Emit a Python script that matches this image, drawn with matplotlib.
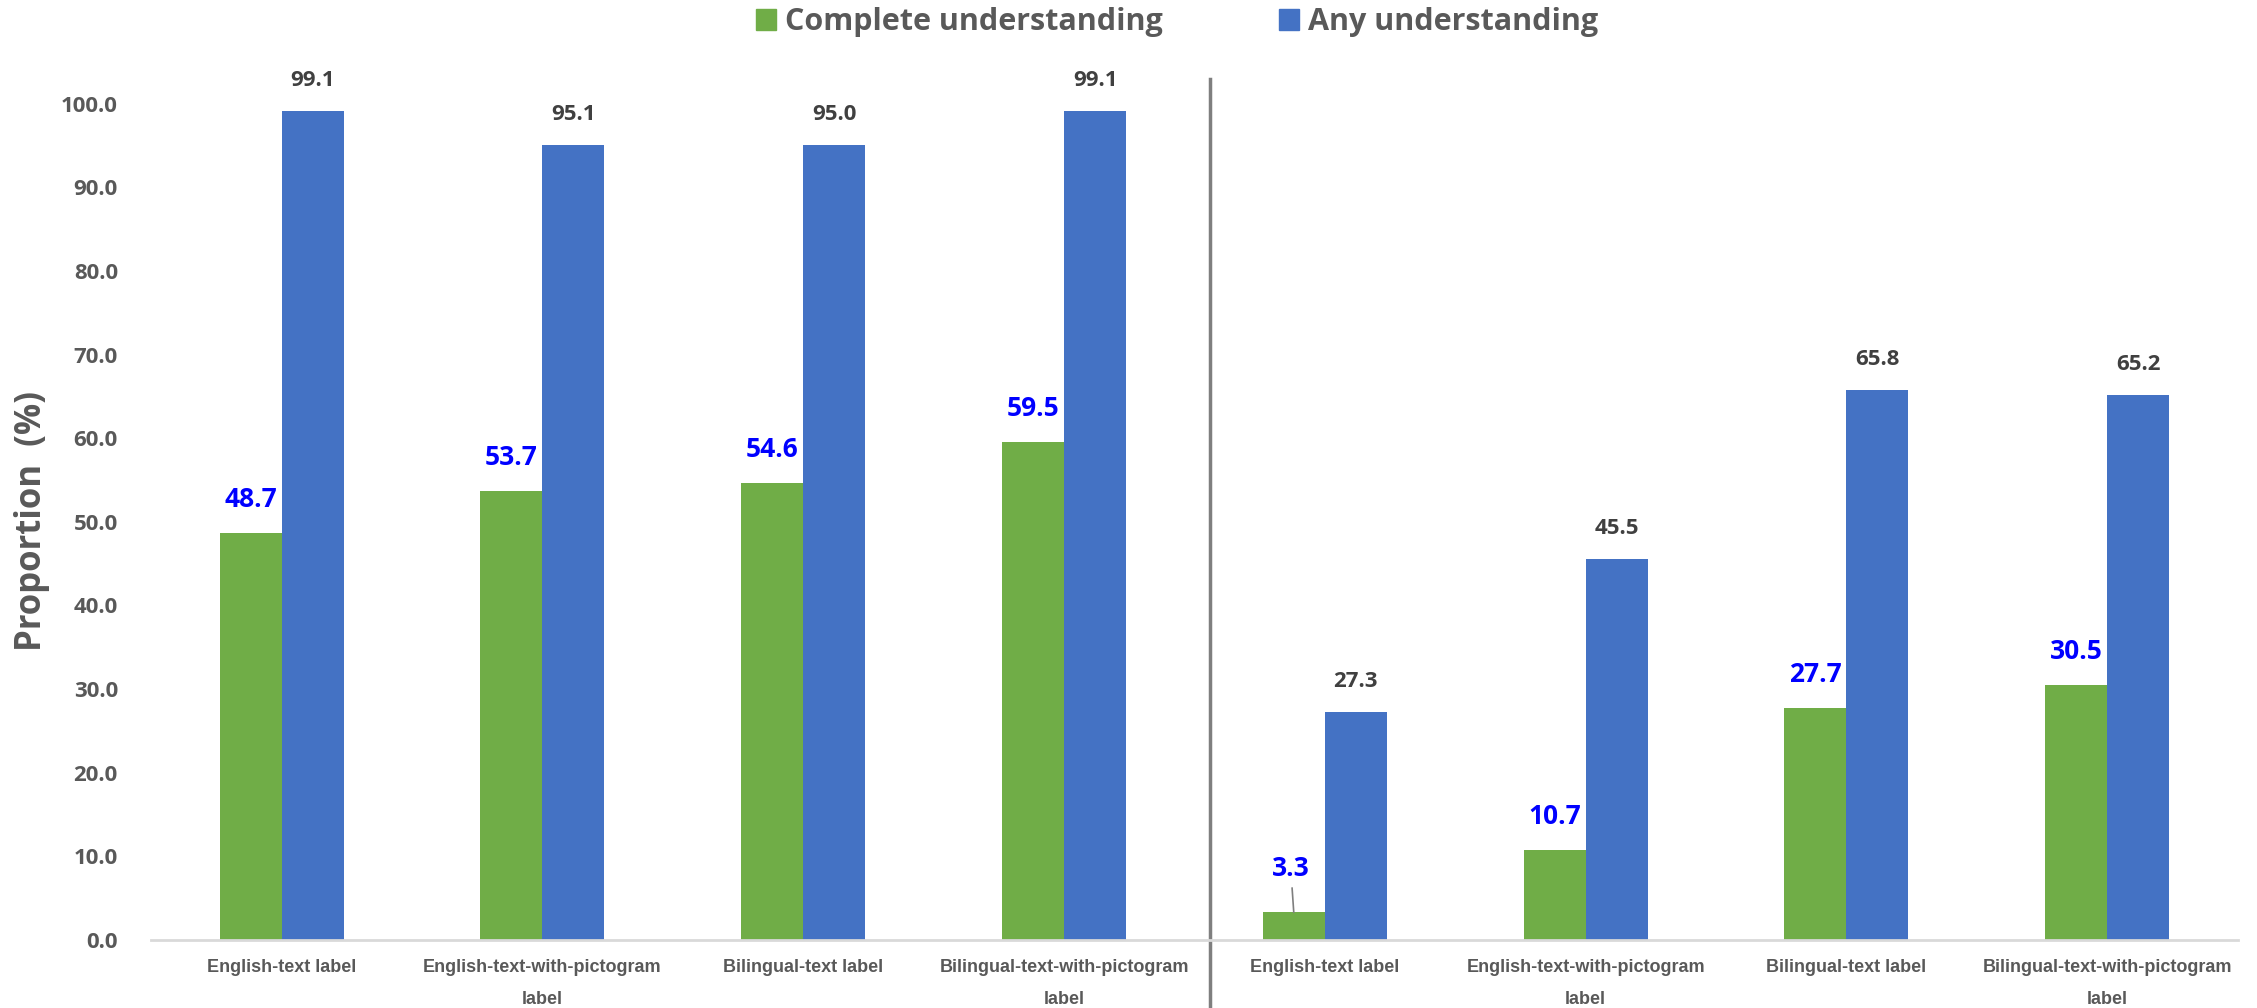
import numpy as np
import matplotlib.pyplot as plt
from matplotlib.patches import Patch
from matplotlib.lines import Line2D

categories = ["English-text label", "English-text-with-pictogram\nlabel",
              "Bilingual-text label", "Bilingual-text-with-pictogram\nlabel"] * 2
complete = [48.7, 53.7, 54.6, 59.5, 3.3, 10.7, 27.7, 30.5]
anyund = [99.1, 95.1, 95.0, 99.1, 27.3, 45.5, 65.8, 65.2]
yticks = [0, 10, 20, 30, 40, 50, 60, 70, 80, 90, 100]

green = "#70AD47"
blue = "#4472C4"
gray = "#595959"
font = "Open Sans"

fig = plt.figure(figsize=(22.57, 10.08), dpi=100)
ax = fig.add_axes([0.067, 0.0675, 0.9244, 0.8297])

x = np.arange(len(categories))
w = 0.238
ax.bar(x - w / 2, complete, w, color=green)
ax.bar(x + w / 2, anyund, w, color=blue)

ax.set_xlim(-0.5, 7.5)
ax.set_ylim(0, 100)
ax.set_yticks(yticks)
ax.set_yticklabels([f"{v:.1f}" for v in yticks], fontfamily=font,
                   fontweight="bold", fontsize=16, color=gray)
ax.set_xticks(x)
ax.set_xticklabels(categories, fontfamily=["Liberation Sans Narrow", "Liberation Sans"],
                   fontweight="bold", fontsize=13, color=gray, linespacing=2.1,
                   va="top")
ax.tick_params(axis="both", length=0)
ax.tick_params(axis="y", pad=24)
ax.tick_params(axis="x", pad=14)
for s in ["top", "right", "left"]:
    ax.spines[s].set_visible(False)
ax.spines["bottom"].set_color("#D9D9D9")
ax.spines["bottom"].set_linewidth(2)

fig.text(32 / 2257, 1 - 521 / 1008, "Proportion  (%)", rotation=90, ha="center",
         va="center", fontfamily=font, fontweight="bold", fontsize=25, color=gray)

# value labels
for i, v in enumerate(complete):
    if v < 5:
        ax.annotate(f"{v:.1f}", (x[i] - w / 2, v), xytext=(-3, 30),
                    textcoords="offset pixels", ha="center", va="bottom",
                    fontfamily=font, fontweight="bold", fontsize=19, color="#0000FF",
                    arrowprops=dict(arrowstyle="-", color="#7F7F7F", lw=1.2,
                                    shrinkA=2, shrinkB=0))
    else:
        ax.annotate(f"{v:.1f}", (x[i] - w / 2, v), xytext=(0, 20),
                    textcoords="offset pixels", ha="center", va="bottom",
                    fontfamily=font, fontweight="bold", fontsize=19, color="#0000FF")
for i, v in enumerate(anyund):
    ax.annotate(f"{v:.1f}", (x[i] + w / 2, v), xytext=(0, 20),
                textcoords="offset pixels", ha="center", va="bottom",
                fontfamily=font, fontweight="bold", fontsize=16, color="#404040",
                annotation_clip=False)

# divider between the two panels
ax.add_line(Line2D([3.56, 3.56], [-0.09, 1.029], transform=ax.get_xaxis_transform(),
                   color="#7F7F7F", lw=2.5, clip_on=False))

handles = [Patch(color=green), Patch(color=blue)]
fig.legend(handles, ["Complete understanding", "Any understanding"], loc="center",
           bbox_to_anchor=(0.5215, 0.978), ncol=2, frameon=False,
           prop=dict(family=font, weight="bold", size=22),
           labelcolor=gray, handlelength=0.65, handleheight=0.65,
           handletextpad=0.3, columnspacing=3.8)

fig.savefig("out.png", dpi=100)
